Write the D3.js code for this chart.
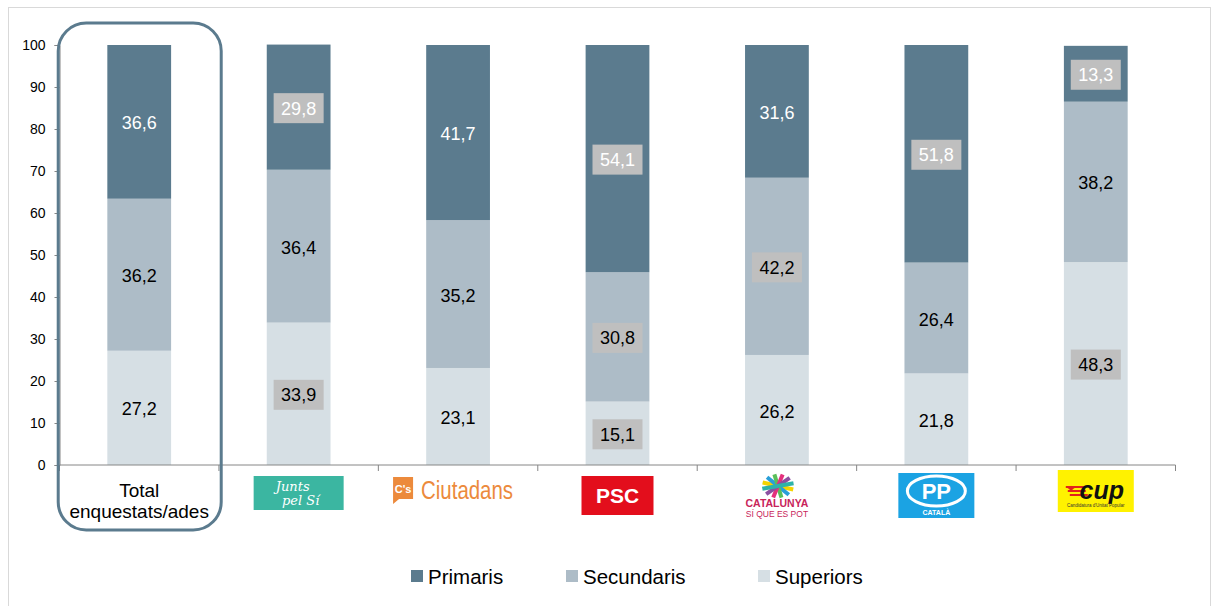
<!DOCTYPE html>
<html>
<head>
<meta charset="utf-8">
<script src="https://cdn.jsdelivr.net/npm/d3@7"></script>
<style>
  body { margin: 0; background: #fff; }
  svg { display: block; font-family: "Liberation Sans", Arial, sans-serif; }
</style>
</head>
<body>
<div id="chart"></div>
<script>
// categories (x axis) and the three stacked series, in %
const categories = ['Total enquestats/ades', 'Junts pel Sí', 'Ciutadans', 'PSC',
                    'Catalunya Sí que es Pot', 'PP', 'CUP'];
const primaris   = [36.6, 29.8, 41.7, 54.1, 31.6, 51.8, 13.3];
const secundaris = [36.2, 36.4, 35.2, 30.8, 42.2, 26.4, 38.2];
const superiors  = [27.2, 33.9, 23.1, 15.1, 26.2, 21.8, 48.3];
const yTicks = [0, 10, 20, 30, 40, 50, 60, 70, 80, 90, 100];
// labels drawn on a grey box in the original
const boxedLabels = [
  ['Junts pel Sí', 'Primaris'], ['Junts pel Sí', 'Superiors'],
  ['PSC', 'Primaris'], ['PSC', 'Secundaris'], ['PSC', 'Superiors'],
  ['Catalunya Sí que es Pot', 'Secundaris'], ['PP', 'Primaris'],
  ['CUP', 'Primaris'], ['CUP', 'Superiors']
];

const W = 1213, H = 606;
const colors = { Primaris: '#5b7b8e', Secundaris: '#adbcc7', Superiors: '#d6dfe4' };
const legendKeys = ['Primaris', 'Secundaris', 'Superiors'];
const stackKeys = ['Superiors', 'Secundaris', 'Primaris'];

const rows = categories.map((c, i) => ({
  cat: c, Primaris: primaris[i], Secundaris: secundaris[i], Superiors: superiors[i]
}));

const svg = d3.select('#chart').append('svg').attr('width', W).attr('height', H);

// outer frame
svg.append('rect')
  .attr('x', 8.5).attr('y', 7.5).attr('width', 1202).attr('height', 600)
  .attr('fill', 'none').attr('stroke', '#d9d9d9').attr('stroke-width', 1);

const x0 = 59.5, x1 = 1175.5;
const x = d3.scaleBand().domain(categories).range([x0, x1])
  .paddingInner(0.6).paddingOuter(0.3);
const y = d3.scaleLinear().domain([0, 100]).range([465, 45]);

const series = d3.stack().keys(stackKeys)(rows);

// bars
svg.append('g').selectAll('g')
  .data(series)
  .join('g')
    .attr('fill', s => colors[s.key])
  .selectAll('rect')
  .data(s => s)
  .join('rect')
    .attr('x', d => x(d.data.cat))
    .attr('width', x.bandwidth())
    .attr('y', d => y(d[1]))
    .attr('height', d => y(d[0]) - y(d[1]));

// y axis
const yAxis = svg.append('g')
  .attr('transform', `translate(${x0},0)`)
  .call(d3.axisLeft(y).tickValues(yTicks).tickSize(5).tickPadding(9).tickFormat(d3.format('d')));
yAxis.select('.domain').attr('stroke', '#868686');
yAxis.selectAll('.tick line').attr('stroke', '#868686');
yAxis.selectAll('text').attr('font-size', 14).attr('fill', '#000')
  .attr('font-family', '"Liberation Sans", Arial, sans-serif');

// x axis line with ticks at band boundaries
const xAxis = svg.append('g');
xAxis.append('line')
  .attr('x1', x0).attr('x2', x1).attr('y1', y(0)).attr('y2', y(0))
  .attr('stroke', '#868686');
const bounds = d3.range(categories.length + 1).map(i => x0 + i * x.step());
xAxis.selectAll('line.t')
  .data(bounds)
  .join('line').attr('class', 't')
    .attr('x1', d => d).attr('x2', d => d)
    .attr('y1', y(0)).attr('y2', y(0) + 6)
    .attr('stroke', '#868686');

// value labels
const isBoxed = (cat, key) => boxedLabels.some(b => b[0] === cat && b[1] === key);
const labels = svg.append('g');
series.forEach(s => {
  s.forEach(d => {
    const cx = x(d.data.cat) + x.bandwidth() / 2;
    const cy = (y(d[0]) + y(d[1])) / 2;
    if (isBoxed(d.data.cat, s.key)) {
      labels.append('rect')
        .attr('x', cx - 25).attr('y', cy - 14).attr('width', 50).attr('height', 30)
        .attr('fill', '#bfbfbf');
    }
    labels.append('text')
      .attr('x', cx).attr('y', cy)
      .attr('dy', '0.42em')
      .attr('text-anchor', 'middle')
      .attr('font-size', 18)
      .attr('fill', s.key === 'Primaris' ? '#fff' : '#000')
      .text(d3.format('.1f')(d.data[s.key]).replace('.', ','));
  });
});

// highlight round box around the total
const tx = x(categories[0]) + x.bandwidth() / 2;
svg.append('rect')
  .attr('x', tx - 81).attr('y', 23).attr('width', 163).attr('height', 507)
  .attr('rx', 28).attr('ry', 28)
  .attr('fill', 'none').attr('stroke', '#5b7b8e').attr('stroke-width', 3);

svg.append('text')
  .attr('x', tx).attr('y', 497).attr('text-anchor', 'middle').attr('font-size', 19)
  .selectAll('tspan')
  .data(['Total', 'enquestats/ades'])
  .join('tspan')
    .attr('x', tx).attr('dy', (d, i) => i ? 21 : 0)
    .text(d => d);

// party logos, drawn under the other categories
function logo(cat) {
  const cx = x(cat) + x.bandwidth() / 2;
  const g = svg.append('g');
  if (cat === 'Junts pel Sí') {
    g.append('rect').attr('x', cx - 45).attr('y', 476).attr('width', 90).attr('height', 34).attr('fill', '#3bb6a1');
    g.append('text').attr('x', cx - 6).attr('y', 491).attr('text-anchor', 'middle')
      .attr('font-size', 13).attr('font-style', 'italic').attr('font-family', '"DejaVu Serif", serif')
      .attr('fill', '#fff').text('Junts');
    g.append('text').attr('x', cx + 2).attr('y', 505).attr('text-anchor', 'middle')
      .attr('font-size', 13).attr('font-style', 'italic').attr('font-family', '"DejaVu Serif", serif')
      .attr('fill', '#fff').text('pel Sí');
  } else if (cat === 'Ciutadans') {
    g.append('path').attr('d', `M${cx - 65},477 h20 v22 h-14 l-6,5 z`).attr('fill', '#ec8a3c');
    g.append('text').attr('x', cx - 55).attr('y', 493).attr('text-anchor', 'middle')
      .attr('font-size', 11).attr('font-weight', 'bold').attr('fill', '#fff').text("C's");
    g.append('text').attr('x', cx - 37).attr('y', 499)
      .attr('font-size', 25).attr('textLength', 92).attr('lengthAdjust', 'spacingAndGlyphs')
      .attr('fill', '#ec8a3c').text('Ciutadans');
  } else if (cat === 'PSC') {
    g.append('rect').attr('x', cx - 36).attr('y', 476).attr('width', 72).attr('height', 39).attr('fill', '#e30e1c');
    g.append('text').attr('x', cx).attr('y', 503).attr('text-anchor', 'middle')
      .attr('font-size', 21).attr('font-weight', 'bold').attr('fill', '#fff').text('PSC');
  } else if (cat === 'Catalunya Sí que es Pot') {
    const rays = ['#f5d400', '#2a9fd8', '#5bbf5a', '#e4317d', '#8b4fa0', '#2fb3a8'];
    rays.forEach((c, i) => {
      const a = i * Math.PI / rays.length + 0.3;
      g.append('line')
        .attr('x1', cx + 1 - 16 * Math.cos(a)).attr('y1', 486 - 12 * Math.sin(a))
        .attr('x2', cx + 1 + 16 * Math.cos(a)).attr('y2', 486 + 12 * Math.sin(a))
        .attr('stroke', c).attr('stroke-width', 4);
    });
    g.append('text').attr('x', cx).attr('y', 507).attr('text-anchor', 'middle')
      .attr('font-size', 10.5).attr('font-weight', 'bold').attr('fill', '#c8245a').text('CATALUNYA');
    g.append('text').attr('x', cx).attr('y', 517).attr('text-anchor', 'middle')
      .attr('font-size', 8.5).attr('fill', '#c8245a').text('SÍ QUE ES POT');
  } else if (cat === 'PP') {
    g.append('rect').attr('x', cx - 38).attr('y', 473).attr('width', 76).attr('height', 45).attr('fill', '#1ba3e3');
    g.append('ellipse').attr('cx', cx).attr('cy', 491).attr('rx', 29).attr('ry', 15)
      .attr('fill', 'none').attr('stroke', '#fff').attr('stroke-width', 3);
    g.append('text').attr('x', cx).attr('y', 499).attr('text-anchor', 'middle')
      .attr('font-size', 22).attr('font-weight', 'bold').attr('fill', '#fff').text('PP');
    g.append('text').attr('x', cx).attr('y', 515).attr('text-anchor', 'middle')
      .attr('font-size', 7).attr('font-weight', 'bold').attr('fill', '#fff').text('CATALÀ');
  } else if (cat === 'CUP') {
    g.append('rect').attr('x', cx - 38).attr('y', 470).attr('width', 76).attr('height', 42).attr('fill', '#fff200');
    [0, 1, 2].forEach(i => {
      g.append('rect').attr('x', cx - 30 + i * 2).attr('y', 486 + i * 4).attr('width', 18).attr('height', 2)
        .attr('fill', '#e2231a');
    });
    g.append('text').attr('x', cx - 29).attr('y', 492).attr('font-size', 9).attr('fill', '#e2231a').text('★');
    g.append('text').attr('x', cx + 6).attr('y', 499).attr('text-anchor', 'middle')
      .attr('font-size', 25).attr('font-weight', 'bold').attr('font-style', 'italic')
      .attr('fill', '#111').text('cup');
    g.append('text').attr('x', cx).attr('y', 507).attr('text-anchor', 'middle')
      .attr('font-size', 4.5).attr('fill', '#333').text("Candidatura d'Unitat Popular");
  }
}
categories.slice(1).forEach(logo);

// legend
const legendX = [411, 566, 758];
const legend = svg.append('g').selectAll('g')
  .data(legendKeys)
  .join('g')
    .attr('transform', (d, i) => `translate(${legendX[i]},570)`);
legend.append('rect').attr('width', 12).attr('height', 12).attr('fill', d => colors[d]);
legend.append('text').attr('x', 17).attr('y', 6).attr('dy', '0.38em')
  .attr('font-size', 20.5).attr('fill', '#000').text(d => d);
</script>
</body>
</html>
